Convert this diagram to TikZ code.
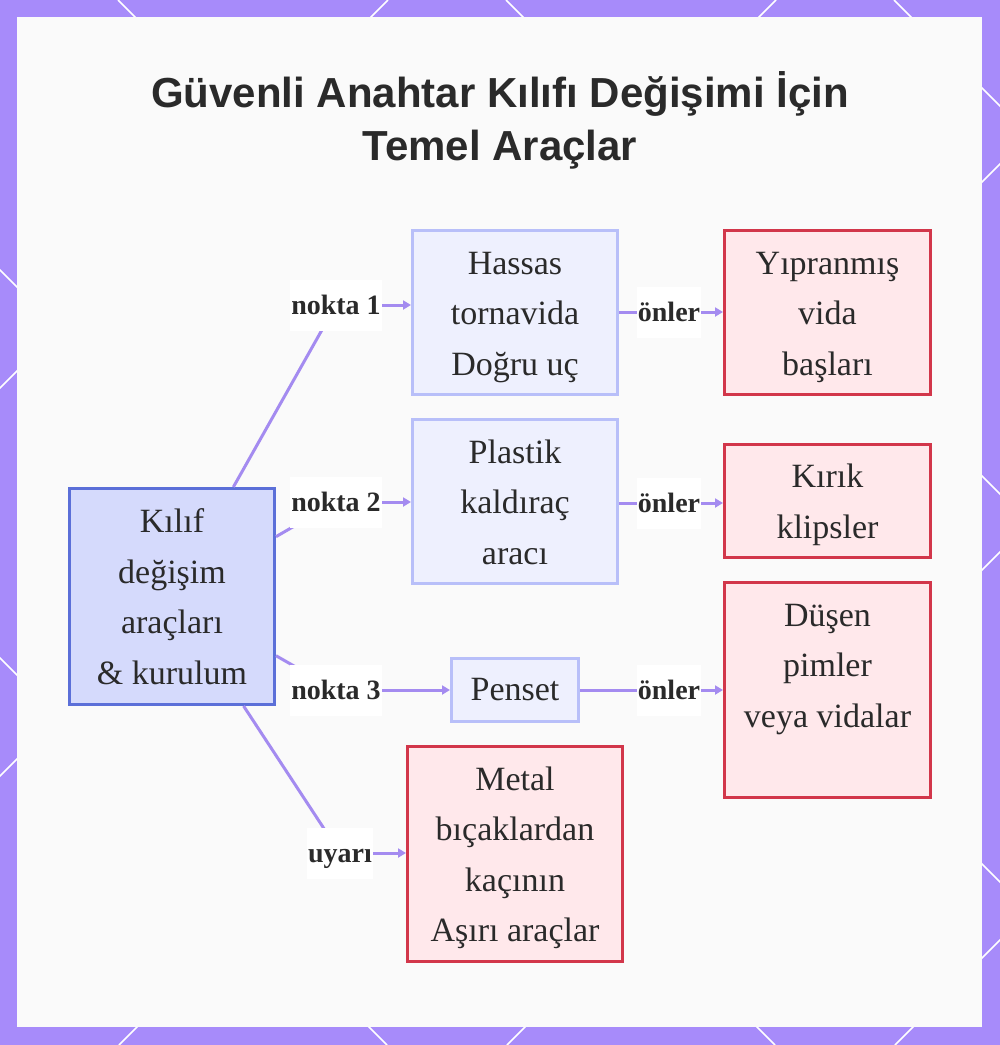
\documentclass[tikz,border=0pt]{standalone}
\usepackage{fontspec}
\setmainfont{Liberation Serif}
\newfontfamily\headfont{Liberation Sans}
\usepackage{xcolor}
\usepackage{tikz}
\usetikzlibrary{positioning,arrows.meta}
\definecolor{frame}{HTML}{A78BFA}
\definecolor{linkc}{HTML}{A48BF0}
\definecolor{rootfill}{HTML}{D5DAFC}
\definecolor{rootline}{HTML}{5B6FD8}
\definecolor{toolfill}{HTML}{EEF0FE}
\definecolor{toolline}{HTML}{B8BFF9}
\definecolor{riskfill}{HTML}{FFE8EB}
\definecolor{riskline}{HTML}{D2364A}
\definecolor{ink}{HTML}{2A2A2A}
% even struts on first and last line, so the boxes centre their lines alike
\newcommand{\tops}{\rule{0pt}{32pt}}
\newcommand{\bots}{\rule[-8pt]{0pt}{8pt}}
\tikzset{
  % --- boxes -----------------------------------------------------------------
  box/.style={rectangle,line width=3pt,align=center,inner sep=2pt,text=ink,
              font=\fontsize{34}{50.5}\selectfont},
  rootbox/.style={box,draw=rootline,fill=rootfill},
  toolbox/.style={box,draw=toolline,fill=toolfill},
  riskbox/.style={box,draw=riskline,fill=riskfill},
  % --- edge labels -----------------------------------------------------------
  elab/.style={rectangle,fill=white,inner xsep=1pt,minimum height=51pt,
               text height=19pt,text depth=0pt,text=ink,
               font=\bfseries\fontsize{28}{30}\selectfont},
  % --- connectors ------------------------------------------------------------
  link/.style={linkc,line width=3pt},
  arr/.style={link,-{Triangle[length=8pt,width=9pt]}},
}

\begin{document}
\begin{tikzpicture}[x=1pt, y=-1pt]
  \useasboundingbox (0,0) rectangle (1000,1045);
  % frame with lattice, then the panel
  \fill[frame] (0,0) rectangle (1000,1045);
  \begin{scope}
    \clip (0,0) rectangle (1000,1045);
    \foreach \c in {-1046,-658,-270,118,506,894}
      \draw[white,line width=1.5pt] (\c,0) -- ++(1045,1045);
    \foreach \d in {388,776,1164,1552,1940}
      \draw[white,line width=1.5pt] (\d,0) -- ++(-1045,1045);
  \end{scope}
  \fill[white!98!black] (17,17) rectangle (982,1027);

  \node[text=ink,align=center,font=\headfont\bfseries\fontsize{42}{53}\selectfont]
       (title) at (500,120) {Güvenli Anahtar Kılıfı Değişimi İçin\\Temel Araçlar};

  \node[rootbox,minimum width=205pt,minimum height=216pt] (kit)    at (172,596.5)
       {\tops Kılıf\\değişim\\araçları\\\& kurulum\bots};
  \node[toolbox,minimum width=205pt,minimum height=164pt] (hassas) at (515,312.5)
       {\tops Hassas\\tornavida\\Doğru uç\bots};
  \node[toolbox,minimum width=205pt,minimum height=164pt] (plastik) at (515,501.5)
       {\tops Plastik\\kaldıraç\\aracı\bots};
  \node[toolbox,minimum width=127pt,minimum height=63pt]  (penset) at (515,690)
       {Penset};
  \node[riskbox,minimum width=206pt,minimum height=164pt] (vida)   at (827.5,312.5)
       {\tops Yıpranmış\\vida\\başları\bots};
  \node[riskbox,minimum width=206pt,minimum height=113pt] (klips)  at (827.5,501)
       {\tops Kırık\\klipsler\bots};
  \node[riskbox,minimum width=206pt,minimum height=215pt] (pim)    at (827.5,690)
       {\tops Düşen\\pimler\\veya vidalar\\\mbox{}\bots};
  \node[riskbox,minimum width=215pt,minimum height=215pt] (metal)  at (515,854)
       {\tops Metal\\bıçaklardan\\kaçının\\Aşırı araçlar\bots};

  \coordinate (p1) at (336,305);
  \coordinate (p2) at (336,502);
  \coordinate (p3) at (336,690);
  \coordinate (pw) at (340,853);
  \coordinate (q1) at (669,312);
  \coordinate (q2) at (669,503);
  \coordinate (q3) at (669,690);

  \draw[link] (kit) -- (p1);
  \draw[link] (kit) -- (p2);
  \draw[link] (kit) -- (p3);
  \draw[link] (kit) -- (pw);
  \draw[arr] (p1) -- (p1 -| hassas.west);
  \draw[arr] (p2) -- (p2 -| plastik.west);
  \draw[arr] (p3) -- (penset);
  \draw[arr] (pw) -- (pw -| metal.west);
  \draw[arr] (hassas.east |- q1) -- (q1 -| vida.west);
  \draw[arr] (plastik.east |- q2) -- (q2 -| klips.west);
  \draw[arr] (penset) -- (q3 -| pim.west);

  \node[elab] (l1) at (p1) {nokta 1};
  \node[elab] (l2) at (p2) {nokta 2};
  \node[elab] (l3) at (p3) {nokta 3};
  \node[elab] (lw) at (pw) {uyarı};
  \node[elab] (o1) at (q1) {önler};
  \node[elab] (o2) at (q2) {önler};
  \node[elab] (o3) at (q3) {önler};
\end{tikzpicture}
\end{document}
